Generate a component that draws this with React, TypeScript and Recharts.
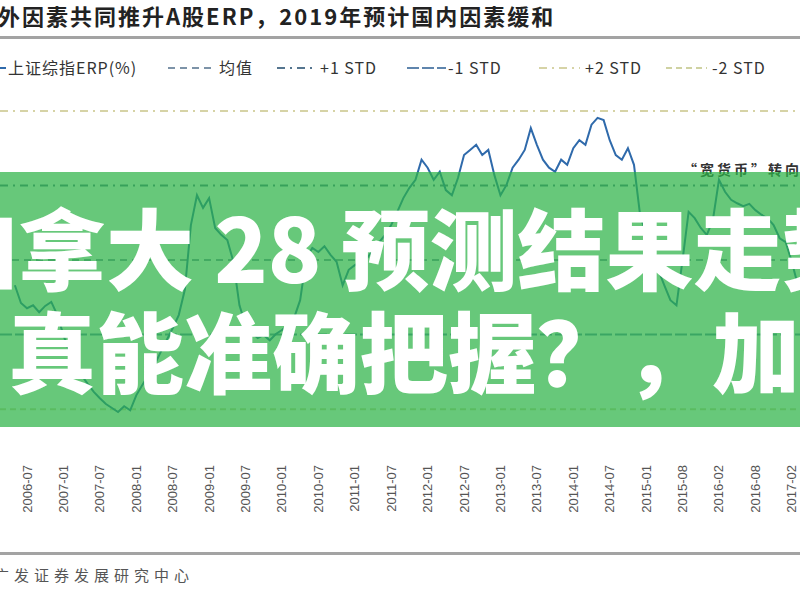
import React from 'react';
import { LineChart, Line, XAxis, YAxis, ReferenceLine } from 'recharts';

// 上证综指ERP(%)，月度，2006-05 起
const ERP = [
  2.96, 2.65, 2.56, 2.61, 2.49, 2.6, 2.67, 2.44, 2.09, 1.79,
  1.57, 1.39, 1.24, 1.1, 0.99, 0.89, 0.82, 0.75, 0.85, 0.78,
  1.04, 1.22, 1.39, 1.57, 1.79, 2.0, 2.21, 2.44, 2.88, 4.01,
  4.53, 4.31, 4.48, 3.96, 3.84, 3.75, 3.37, 2.61, 2.27, 2.14,
  2.04, 2.09, 2.0, 2.11, 2.18, 2.27, 2.39, 2.7, 3.43, 3.61,
  3.54, 3.64, 3.49, 3.37, 2.96, 3.23, 3.31, 3.37, 3.43, 3.57,
  3.71, 3.84, 4.01, 4.24, 4.48, 4.66, 4.8, 5.15, 5.01, 4.8,
  4.94, 4.62, 4.53, 4.83, 5.23, 5.32, 5.41, 5.23, 5.32, 4.88,
  4.53, 4.71, 5.01, 5.15, 5.32, 5.7, 5.41, 5.15, 5.01, 4.94,
  5.15, 5.06, 5.35, 5.49, 5.41, 5.76, 5.88, 5.84, 5.49, 5.23,
  5.15, 5.35, 5.06, 4.19, 3.84, 3.49, 3.23, 2.96, 2.7, 2.61,
  3.4, 4.24, 4.13, 3.96, 3.84, 4.1, 4.8, 4.59, 4.45, 4.39,
  4.34, 4.38, 4.27, 4.19, 4.13, 4.01, 3.78, 3.71, 3.37, 2.96,
];

const X_LABELS = [
  '2006-07', '2007-01', '2007-07', '2008-01', '2008-07', '2009-01', '2009-07', '2010-01',
  '2010-07', '2011-01', '2011-07', '2012-01', '2012-07', '2013-01', '2013-07', '2014-01',
  '2014-07', '2015-01', '2015-08', '2016-02', '2016-08', '2017-02',
];

const MEAN = 3.4;
const STD = 1.3;

const SERIES_NAMES = ['上证综指ERP(%)', '均值', '+1 STD', '-1 STD', '+2 STD', '-2 STD'];
const BAND_OFFSETS = [0, 1, -1, 2, -2];

// styles
const LINE_BLUE = '#2f6aab';
const BAND_STYLE = [
  { color: '#7d93a8', dash: '7 5' },
  { color: '#55758f', dash: '8 5 2 5' },
  { color: '#5f85ad', dash: '12 3' },
  { color: '#d6d3a6', dash: '8 5 2 5' },
  { color: '#cfd2a2', dash: '6 4' },
];
const LEGEND_POS = [
  { x0: -20, x1: 6, tx: 8 },
  { x0: 168, x1: 212, tx: 219 },
  { x0: 277, x1: 314, tx: 320 },
  { x0: 407, x1: 446, tx: 448 },
  { x0: 539, x1: 580, tx: 585 },
  { x0: 666, x1: 707, tx: 712 },
];

const rows = ERP.map((v, i) => ({ i, erp: v }));
const tickIdx = X_LABELS.map((_, k) => 2 + 6 * k);

function DateTick(props: any) {
  const { x, y, payload } = props;
  const k = Math.round((payload.value - 2) / 6);
  return (
    <text
      x={x}
      y={y}
      transform={`rotate(-90 ${x} ${y})`}
      textAnchor="end"
      dominantBaseline="central"
      fontSize={13}
      fill="#555"
      fontFamily="'Liberation Sans', Arial, sans-serif"
    >
      {X_LABELS[k]}
    </text>
  );
}

export default function App() {
  const cjk = "'Noto Sans CJK SC', sans-serif";
  return (
    <div style={{ position: 'relative', width: 800, height: 600, overflow: 'hidden', background: '#fff' }}>
      <style>{'body{margin:0}'}</style>

      <div style={{ position: 'absolute', left: 0, top: 0 }}>
        <LineChart width={800} height={600} data={rows} margin={{ top: 88, right: 0, left: 0, bottom: 85 }}>
          <XAxis
            dataKey="i"
            type="number"
            domain={[-2.45, 129.35]}
            ticks={tickIdx}
            interval={0}
            tick={<DateTick />}
            axisLine={false}
            tickLine={false}
            tickMargin={4}
            height={60}
            allowDataOverflow
          />
          <YAxis hide domain={[0, 6.4]} allowDataOverflow />
          {BAND_OFFSETS.map((k, n) => (
            <ReferenceLine
              key={n}
              y={MEAN + k * STD}
              stroke={BAND_STYLE[n].color}
              strokeWidth={2}
              strokeDasharray={BAND_STYLE[n].dash}
            />
          ))}
          <Line
            type="linear"
            dataKey="erp"
            stroke={LINE_BLUE}
            strokeWidth={2}
            dot={false}
            isAnimationActive={false}
          />
        </LineChart>
      </div>

      <svg width={800} height={600} style={{ position: 'absolute', left: 0, top: 0 }}>
        <text x={-2} y={25} fontFamily={cjk} fontWeight={700} fontSize={22} letterSpacing={2} fill="#222">
          外因素共同推升A股ERP，2019年预计国内因素缓和
        </text>
        <rect x={0} y={36} width={800} height={3} fill="#a3a3a3" />

        {SERIES_NAMES.map((name, n) => {
          const p = LEGEND_POS[n];
          const st = n === 0 ? { color: LINE_BLUE, dash: undefined } : BAND_STYLE[n - 1];
          return (
            <g key={name}>
              <line x1={p.x0} x2={p.x1} y1={68} y2={68} stroke={st.color} strokeWidth={2} strokeDasharray={st.dash} />
              <text x={p.tx} y={74} fontFamily={cjk} fontSize={16} letterSpacing={1} fill="#333">
                {name}
              </text>
            </g>
          );
        })}

        <text x={683} y={175} fontFamily={cjk} fontWeight={700} fontSize={14} letterSpacing={3} fill="#333">
          “宽货币”转向
        </text>

        <rect x={0} y={172} width={800} height={255} fill="rgba(45,179,70,0.72)" />
        <text x={-70} y={283} fontFamily={cjk} fontWeight={900} fontSize={88} fill="#fff">
          加拿大 28 预测结果走势
        </text>
        <text x={8} y={386} fontFamily={cjk} fontWeight={900} fontSize={88} fill="#fff">
          真能准确把握？，加拿大
        </text>

        <rect x={0} y={552} width={800} height={3} fill="#a3a3a3" />
        <text x={-6} y={581} fontFamily={cjk} fontSize={15} letterSpacing={5} fill="#555">
          广发证券发展研究中心
        </text>
      </svg>
    </div>
  );
}
